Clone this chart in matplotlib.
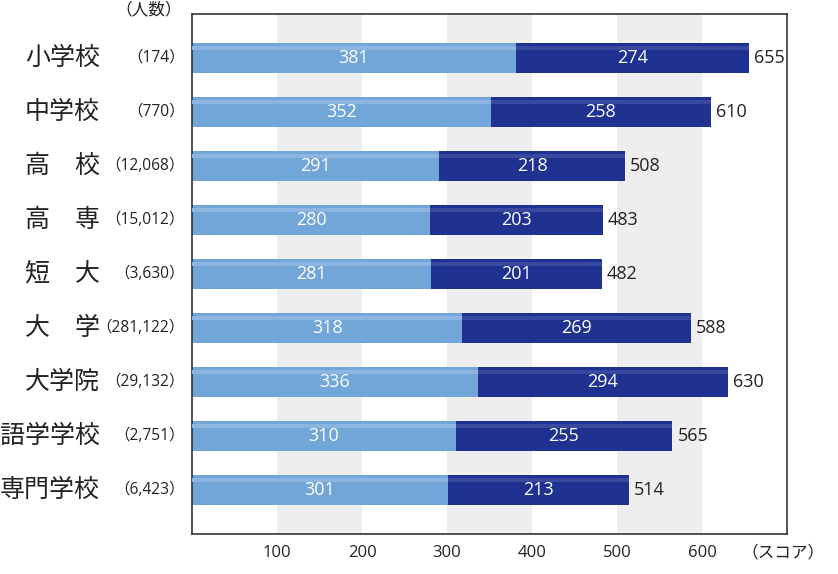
import matplotlib.pyplot as plt
import matplotlib.transforms as mtransforms

plt.rcParams['font.family'] = ['Noto Sans CJK JP', 'DejaVu Sans']
num_font = ['Open Sans', 'Noto Sans CJK JP']

categories = ['小学校', '中学校', '高\u3000校', '高\u3000専', '短\u3000大',
              '大\u3000学', '大学院', '語学学校', '専門学校']
counts = ['（174）', '（770）', '（12,068）', '（15,012）', '（3,630）',
          '（281,122）', '（29,132）', '（2,751）', '（6,423）']
part1 = [381, 352, 291, 280, 281, 318, 336, 310, 301]
part2 = [274, 258, 218, 203, 201, 269, 294, 255, 213]
totals = [655, 610, 508, 483, 482, 588, 630, 565, 514]
xticks = [100, 200, 300, 400, 500, 600]

light = '#72A5D8'
dark = '#1F3191'

fig = plt.figure(figsize=(8.38, 5.74), dpi=100)
ax = fig.add_axes([192 / 838, 1 - 534 / 574, 595 / 838, 520 / 574])

# background bands
for x0 in (100, 300, 500):
    ax.axvspan(x0, x0 + 100, color='#EEEEEE', zorder=0, lw=0)

y = list(range(len(categories)))
h = 0.56
ax.barh(y, part1, height=h, color=light, zorder=2)
ax.barh(y, part2, left=part1, height=h, color=dark, zorder=2)
# soft highlight near the top of the bars
hy = [v - h / 2 + 0.09 for v in y]
ax.barh(hy, part1, height=0.07, color='#8DB5E2', zorder=3, lw=0)
ax.barh(hy, part2, left=part1, height=0.07, color='#3A49A0', zorder=3, lw=0)

for i in y:
    ax.text(part1[i] / 2, i, str(part1[i]), ha='center', va='center',
            color='white', fontsize=13, family=num_font, zorder=4)
    ax.text(part1[i] + part2[i] / 2, i, str(part2[i]), ha='center', va='center',
            color='white', fontsize=13, family=num_font, zorder=4)
    ax.text(part1[i] + part2[i] + 6, i, str(totals[i]), ha='left', va='center',
            color='#222222', fontsize=13, family=num_font, zorder=4)

trans = mtransforms.blended_transform_factory(ax.transAxes, ax.transData)
for i in y:
    ax.text(-0.155, i, categories[i], transform=trans, ha='right', va='center',
            fontsize=18, color='#222222')
    ax.text(-0.012, i, counts[i], transform=trans, ha='right', va='center',
            fontsize=11.2, family=num_font, color='#222222')

fig.text(182 / 838, 1 - 10 / 574, '（人数）', ha='right', va='center',
         fontsize=12, color='#222222')
fig.text(824 / 838, 1 - 553 / 574, '（スコア）', ha='right', va='center',
         fontsize=12, color='#222222')

ax.set_xlim(0, 700)
ax.set_ylim(len(categories) - 1 + 0.815, -0.815)
ax.set_xticks(xticks)
ax.set_xticklabels([str(t) for t in xticks], fontsize=12, family=num_font,
                   color='#222222')
ax.set_yticks([])
ax.tick_params(axis='x', length=0, pad=8)
for s in ax.spines.values():
    s.set_color('#333333')
    s.set_linewidth(1.2)

fig.savefig('out.png', dpi=100)
